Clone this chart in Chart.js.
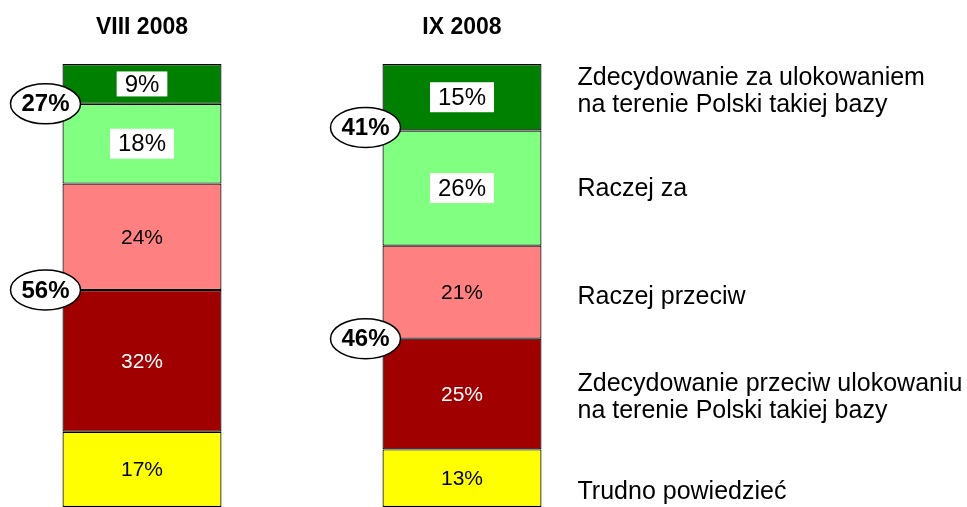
<!DOCTYPE html>
<html><head><meta charset="utf-8">
<script src="https://cdn.jsdelivr.net/npm/chart.js@4.4.1/dist/chart.umd.min.js"></script>
<style>html,body{margin:0;padding:0;background:#fff;overflow:hidden}#wrap{width:985px;height:507px;position:relative;left:-18px}</style>
</head><body><div id="wrap"><canvas id="c"></canvas></div>
<script>
// ---- data ----
const periods = ['VIII 2008', 'IX 2008'];
const strongFor = [9, 15];
const ratherFor = [18, 26];
const ratherAgainst = [24, 21];
const strongAgainst = [32, 25];
const dontKnow = [17, 13];
const totalFor = [27, 41];
const totalAgainst = [56, 46];
const answerLabels = [
  ['Zdecydowanie za ulokowaniem', 'na terenie Polski takiej bazy'],
  ['Raczej za'],
  ['Raczej przeciw'],
  ['Zdecydowanie przeciw ulokowaniu', 'na terenie Polski takiej bazy'],
  ['Trudno powiedzieć']
];

const FONT = '"Liberation Sans", Arial, Helvetica, sans-serif';
Chart.defaults.font.family = FONT;

// bottom-to-top stacking order
const series = [
  {data: dontKnow, color: '#FFFF00', text: '#000', box: false, legend: 4, nudge: 14},
  {data: strongAgainst, color: '#A00000', text: '#fff', box: false, legend: 3, nudge: 4},
  {data: ratherAgainst, color: '#FF8080', text: '#000', box: false, legend: 2, nudge: 5},
  {data: ratherFor, color: '#80FF80', text: '#000', box: true, legend: 1, nudge: 1},
  {data: strongFor, color: '#008000', text: '#000', box: true, legend: 0, nudge: -6}
];

const labelsPlugin = {
  id: 'labels',
  afterDatasetsDraw(chart) {
    const ctx = chart.ctx;
    ctx.save();
    ctx.textAlign = 'center';
    ctx.textBaseline = 'middle';
    series.forEach((s, di) => {
      const meta = chart.getDatasetMeta(di);
      meta.data.forEach((el, i) => {
        const cy = (el.y + el.base) / 2;
        const txt = s.data[i] + '%';
        if (s.box) {
          ctx.font = '24px ' + FONT;
          const w = ctx.measureText(txt).width + 16;
          const h = s.data[i] < 10 ? 25 : 30;
          ctx.fillStyle = '#fff';
          ctx.fillRect(el.x - w / 2, cy - h / 2, w, h);
        } else {
          ctx.font = '21px ' + FONT;
        }
        ctx.fillStyle = s.text;
        ctx.fillText(txt, el.x, cy + 1);
      });
    });
    // right-hand answer labels, aligned with the IX bar segments
    ctx.textAlign = 'left';
    ctx.font = '25px ' + FONT;
    ctx.fillStyle = '#000';
    const textX = chart.getDatasetMeta(0).data[1].x + 115.5;
    series.forEach((s, di) => {
      const el = chart.getDatasetMeta(di).data[1];
      const cy = (el.y + el.base) / 2 + s.nudge;
      const lines = answerLabels[s.legend];
      const lh = 27;
      lines.forEach((ln, k) => {
        ctx.fillText(ln, textX, cy + (k - (lines.length - 1) / 2) * lh);
      });
    });
    // ellipses with group totals
    const drawEll = (x, y, txt) => {
      ctx.beginPath();
      ctx.ellipse(x, y, 35, 20, 0, 0, Math.PI * 2);
      ctx.fillStyle = '#fff';
      ctx.fill();
      ctx.lineWidth = 1.5;
      ctx.strokeStyle = '#000';
      ctx.stroke();
      ctx.fillStyle = '#000';
      ctx.font = 'bold 24px ' + FONT;
      ctx.textAlign = 'center';
      ctx.fillText(txt, x, y + 1);
    };
    const forMeta = chart.getDatasetMeta(4);
    const agMeta = chart.getDatasetMeta(1);
    forMeta.data.forEach((el, i) => {
      const left = el.x - el.width / 2;
      drawEll(left - 17, el.base - 3 * i, totalFor[i] + '%');
      const e2 = agMeta.data[i];
      drawEll(left - 17, e2.y, totalAgainst[i] + '%');
    });
    ctx.restore();
  }
};

new Chart(document.getElementById('c'), {
  type: 'bar',
  data: {
    labels: periods,
    datasets: series.map(s => ({
      data: s.data,
      backgroundColor: s.color,
      borderColor: '#000',
      borderWidth: 1.2,
      borderSkipped: false,
      categoryPercentage: 1,
      barPercentage: 159 / 320
    }))
  },
  options: {
    responsive: true,
    maintainAspectRatio: false,
    animation: false,
    layout: {padding: {left: 0, right: 345, top: 0, bottom: 0}},
    plugins: {legend: {display: false}, tooltip: {enabled: false}},
    scales: {
      x: {
        position: 'top',
        stacked: true,
        grid: {display: false, drawTicks: false},
        border: {display: false},
        afterFit: scale => { scale.height = 64; },
        ticks: {
          autoSkip: false,
          maxRotation: 0,
          padding: 23,
          color: '#000',
          font: {size: 23, weight: 'bold'}
        }
      },
      y: {
        stacked: true,
        min: 0,
        max: 100,
        display: false
      }
    }
  },
  plugins: [labelsPlugin]
});
</script>
</body></html>
